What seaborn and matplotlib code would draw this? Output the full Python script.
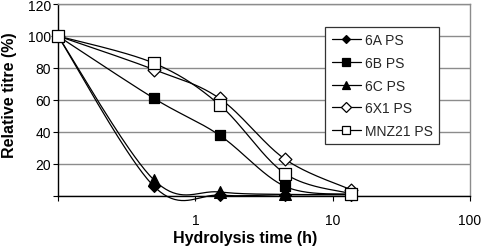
import numpy as np
import pandas as pd
import matplotlib
matplotlib.use("Agg")
import matplotlib.pyplot as plt
from matplotlib.lines import Line2D
import seaborn as sns

# ---- data ----
hours = [0.1, 0.5, 1.5, 4.5, 13.5]
series_names = ["6A PS", "6B PS", "6C PS", "6X1 PS", "MNZ21 PS"]
titre_6A = [100, 6, 0.5, 0.8, 0.8]
titre_6B = [100, 61, 38, 6, 1]
titre_6C = [100, 10, 2.5, 1, 1]
titre_6X1 = [100, 79, 61, 23, 4]
titre_MNZ21 = [100, 83, 57, 14, 1.5]
y_ticks = [0, 20, 40, 60, 80, 100, 120]
y_tick_labels = ["", "20", "40", "60", "80", "100", "120"]
x_ticks = [0.1, 1, 10, 100]
x_tick_labels = ["", "1", "10", "100"]

values = [titre_6A, titre_6B, titre_6C, titre_6X1, titre_MNZ21]
markers = ["D", "s", "^", "D", "s"]
faces = ["black", "black", "black", "white", "white"]
msizes = [6.0, 7.5, 8.5, 6.5, 8.0]


def smooth(xs, ys, n=40):
    """Excel-like smoothed line (Catmull-Rom Bezier) in log-x space."""
    pts = np.column_stack([np.log10(xs), np.asarray(ys, float)])
    m = len(pts)
    t = np.linspace(0, 1, n)[:, None]
    segs = []
    for i in range(m - 1):
        p0 = pts[max(i - 1, 0)]
        p1 = pts[i]
        p2 = pts[i + 1]
        p3 = pts[min(i + 2, m - 1)]
        c1 = p1 + (p2 - p0) / 6.0
        c2 = p2 - (p3 - p1) / 6.0
        b = ((1 - t) ** 3) * p1 + 3 * ((1 - t) ** 2) * t * c1 + 3 * (1 - t) * t ** 2 * c2 + t ** 3 * p2
        segs.append(b if i == 0 else b[1:])
    c = np.vstack(segs)
    return 10 ** c[:, 0], c[:, 1]


sns.set_theme(style="white")
plt.rcParams["font.family"] = ["Liberation Sans", "DejaVu Sans"]

fig = plt.figure(figsize=(4.84, 2.51), dpi=100)
ax = fig.add_axes([58 / 484, 1 - 197 / 251, 412 / 484, 192 / 251])

ax.set_xscale("log")
ax.set_xlim(0.1, 100)
ax.set_ylim(0, 120)

# gridlines
ax.set_yticks(y_ticks)
ax.set_yticklabels(y_tick_labels)
ax.set_xticks(x_ticks)
ax.set_xticklabels(x_tick_labels)
ax.xaxis.set_minor_locator(matplotlib.ticker.NullLocator())
ax.yaxis.grid(True, color="#8c8c8c", linewidth=1.0)
ax.xaxis.grid(False)
ax.set_axisbelow(True)

handles = []
for k, (name, vals) in enumerate(zip(series_names, values)):
    sx, sy = smooth(hours, vals)
    df_line = pd.DataFrame({"x": sx, "y": sy})
    sns.lineplot(data=df_line, x="x", y="y", ax=ax, color="black", linewidth=0.9,
                 estimator=None, sort=False, zorder=3 + 2 * k, clip_on=False)
    df_pts = pd.DataFrame({"x": hours, "y": vals})
    sns.scatterplot(data=df_pts, x="x", y="y", ax=ax, marker=markers[k],
                    s=msizes[k] ** 2, color=faces[k], edgecolor="black",
                    linewidth=0.9, zorder=4 + 2 * k, clip_on=False)
    handles.append(Line2D([], [], color="black", linewidth=0.9, marker=markers[k],
                          markerfacecolor=faces[k], markeredgecolor="black",
                          markersize=msizes[k] * 0.75, markeredgewidth=0.9, label=name))

for side in ["left", "bottom"]:
    ax.spines[side].set_color("black")
    ax.spines[side].set_linewidth(1.0)
for side in ["top", "right"]:
    ax.spines[side].set_color("#8c8c8c")
    ax.spines[side].set_linewidth(1.0)

ax.tick_params(axis="both", which="major", direction="out", length=3.6, width=0.8,
               color="black", labelsize=10, labelcolor="black", bottom=True, left=True)
ax.tick_params(axis="x", pad=9)
ax.tick_params(axis="y", pad=1.5)

ax.set_xlabel("Hydrolysis time (h)", fontsize=11.5, fontweight="bold", color="black")
ax.set_ylabel("Relative titre (%)", fontsize=11.5, fontweight="bold", color="black")
ax.xaxis.set_label_coords(0.455, -0.175)
ax.yaxis.set_label_coords(-0.100, 0.53)

leg = ax.legend(handles=handles, loc="upper right", bbox_to_anchor=(0.925, 0.880),
                fontsize=10, frameon=True, fancybox=False, edgecolor="#333333",
                framealpha=1.0, handlelength=2.1, handletextpad=0.3,
                labelspacing=0.62, borderpad=0.45, borderaxespad=0.0)
leg.get_frame().set_linewidth(0.9)
leg.set_zorder(20)

fig.savefig("out.png", dpi=100)
